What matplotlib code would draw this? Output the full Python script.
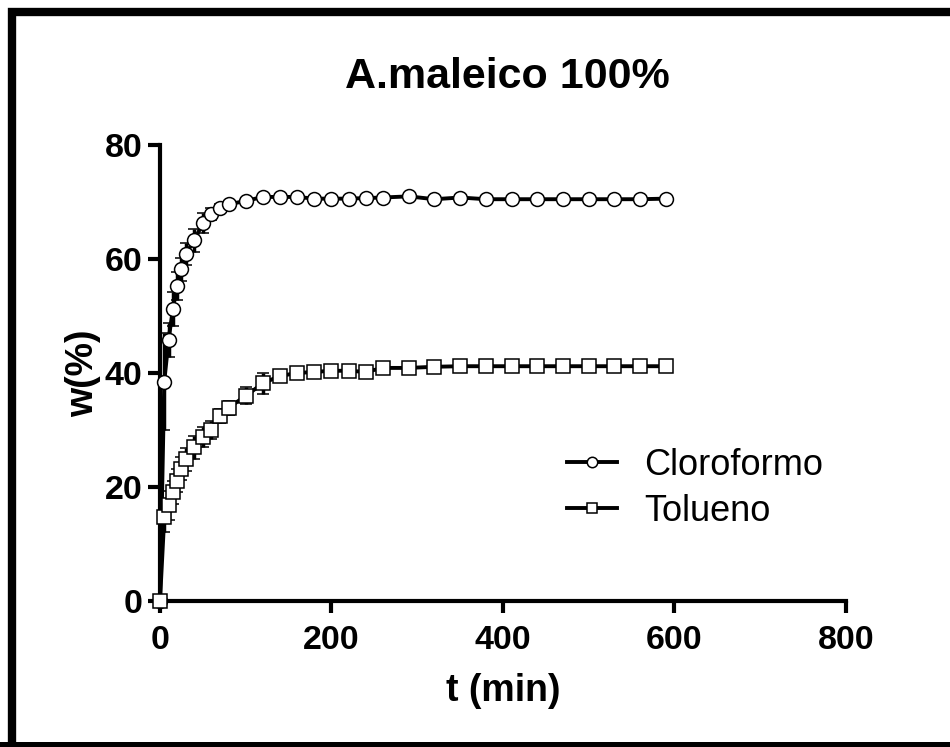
import matplotlib.pyplot as plt
from matplotlib.patches import Rectangle

plt.rcParams['font.family'] = ['Liberation Sans', 'DejaVu Sans']

# time points (min)
t_clor = [0, 5, 10, 15, 20, 25, 30, 40, 50, 60, 70, 80, 100, 120, 140, 160, 180, 200,
          220, 240, 260, 290, 320, 350, 380, 410, 440, 470, 500, 530, 560, 590]
w_clor = [0, 38.5, 45.8, 51.2, 55.3, 58.2, 60.9, 63.3, 66.3, 67.9, 69.0, 69.6, 70.2, 70.9,
          70.9, 70.9, 70.6, 70.6, 70.6, 70.7, 70.8, 71.0, 70.5, 70.8, 70.5, 70.5, 70.5,
          70.5, 70.5, 70.5, 70.5, 70.6]
e_clor = [0, 8.5, 3.0, 3.0, 2.5, 2.0, 2.0, 2.0, 1.8, 1.0, 0.6, 0.5, 0.5, 0.4, 0.4, 0.4, 0.4,
          0.4, 0.3, 0.3, 0.3, 0.3, 0.3, 0.3, 0.3, 0.3, 0.3, 0.3, 0.3, 0.3, 0.3, 0.3]

t_tol = [0, 5, 10, 15, 20, 25, 30, 40, 50, 60, 70, 80, 100, 120, 140, 160, 180, 200,
         220, 240, 260, 290, 320, 350, 380, 410, 440, 470, 500, 530, 560, 590]
w_tol = [0, 14.7, 16.8, 19.1, 21.1, 23.2, 24.9, 27.0, 28.8, 30.0, 32.5, 33.9, 36.0, 38.2,
         39.5, 40.0, 40.2, 40.4, 40.4, 40.2, 40.9, 40.9, 41.1, 41.2, 41.2, 41.2, 41.2,
         41.2, 41.2, 41.2, 41.2, 41.2]
e_tol = [0, 2.5, 2.5, 2.0, 2.0, 2.0, 2.0, 2.0, 1.8, 1.5, 1.2, 1.2, 1.5, 1.8, 0.8, 0.5, 0.4,
         0.4, 0.4, 0.4, 0.4, 0.4, 0.3, 0.3, 0.3, 0.3, 0.3, 0.3, 0.3, 0.3, 0.3, 0.3]

fig = plt.figure(figsize=(9.5, 7.47), dpi=100)
ax = fig.add_axes([0.1684, 0.1954, 0.7221, 0.6104])

style = dict(color='black', lw=2.8, markersize=10, markeredgewidth=1.1,
             markerfacecolor='white', markeredgecolor='black',
             ecolor='black', elinewidth=2.5, capsize=4.5, capthick=2.5, clip_on=False)
ax.errorbar(t_clor, w_clor, yerr=e_clor, marker='o', label='Cloroformo', zorder=3, **style)
ax.errorbar(t_tol, w_tol, yerr=e_tol, marker='s', label='Tolueno', zorder=3, **style)

ax.set_xlim(0, 800)
ax.set_ylim(0, 80)
ax.set_xticks([0, 200, 400, 600, 800])
ax.set_yticks([0, 20, 40, 60, 80])

for s in ['top', 'right']:
    ax.spines[s].set_visible(False)
for s in ['left', 'bottom']:
    ax.spines[s].set_linewidth(3)

ax.tick_params(axis='both', direction='out', length=8.5, width=3, labelsize=24.5)
ax.tick_params(axis='x', pad=9)
ax.tick_params(axis='y', pad=4)
for lab in ax.get_xticklabels() + ax.get_yticklabels():
    lab.set_fontweight('bold')

ax.set_xlabel('t (min)', fontsize=27, fontweight='bold', labelpad=12)
ax.set_ylabel('w(%)', fontsize=27, fontweight='bold', labelpad=3)
fig.text(0.534, 0.897, 'A.maleico 100%', fontsize=31, fontweight='bold',
         ha='center', va='center')

handles, labels = ax.get_legend_handles_labels()
handles = [h[0] for h in handles]
ax.legend(handles, labels, loc='center left', bbox_to_anchor=(0.5455, 0.2475),
          frameon=False, fontsize=26, handlelength=1.4, handletextpad=0.75,
          labelspacing=0.3, markerscale=0.75)

# frame around the whole figure (runs off the right edge)
fig.patches.append(Rectangle((12 / 950, -0.01), 1.05, 1 - 12 / 747 + 0.01,
                             transform=fig.transFigure, fill=False,
                             edgecolor='black', linewidth=6, clip_on=False))
fig.patches.append(Rectangle((0, 0), 1, 5 / 747, transform=fig.transFigure,
                             facecolor='black', edgecolor='none'))

plt.savefig('out.png', dpi=100)
